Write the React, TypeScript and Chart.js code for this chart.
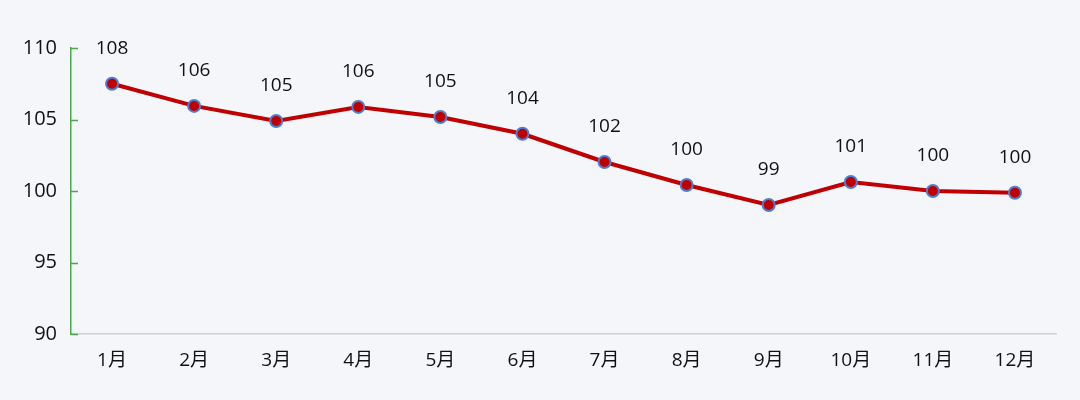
import React, { useEffect, useRef } from "react";
import { Chart, registerables } from "chart.js";

Chart.register(...registerables);

const categories = ["1月", "2月", "3月", "4月", "5月", "6月", "7月", "8月", "9月", "10月", "11月", "12月"];
const values = [107.5, 105.95, 104.9, 105.88, 105.17, 104.0, 102.03, 100.42, 99.02, 100.63, 100.0, 99.88];
const yTicks = [90, 95, 100, 105, 110];

const FONT = "'Open Sans', 'Noto Sans CJK SC', sans-serif";
const BG = "#f4f6fa";
const TEXT = "#111111";

const labelPlugin = {
  id: "pointLabels",
  afterDatasetsDraw(chart: any) {
    const ctx = chart.ctx;
    const meta = chart.getDatasetMeta(0);
    ctx.save();
    ctx.font = `19px ${FONT}`;
    ctx.fillStyle = TEXT;
    ctx.textAlign = "center";
    ctx.textBaseline = "middle";
    meta.data.forEach((pt: any, i: number) => {
      ctx.fillText(String(Math.round(values[i])), pt.x, pt.y - 35);
    });
    ctx.restore();
  },
};

const tickPlugin = {
  id: "innerTicks",
  afterDraw(chart: any) {
    const ctx = chart.ctx;
    const y = chart.scales.y;
    ctx.save();
    ctx.strokeStyle = "#4aa84a";
    ctx.lineWidth = 1.5;
    yTicks.forEach((v) => {
      const py = Math.round(y.getPixelForValue(v)) + 0.5;
      ctx.beginPath();
      ctx.moveTo(y.right, py);
      ctx.lineTo(y.right + 7, py);
      ctx.stroke();
    });
    ctx.restore();
  },
};

export default function App() {
  const ref = useRef<HTMLCanvasElement>(null);
  useEffect(() => {
    document.body.style.margin = "0";
    const chart = new Chart(ref.current!, {
      type: "line",
      data: {
        labels: categories,
        datasets: [
          {
            data: values,
            borderColor: "#c00000",
            borderWidth: 4,
            backgroundColor: "#c00000",
            pointBackgroundColor: "#c00000",
            pointBorderColor: "#4a7fd4",
            pointBorderWidth: 2,
            pointRadius: 6,
            tension: 0,
          },
        ],
      },
      options: {
        animation: false,
        responsive: false,
        maintainAspectRatio: false,
        layout: { padding: { left: 0, top: 48, right: 24, bottom: 0 } },
        plugins: { legend: { display: false }, tooltip: { enabled: false } },
        scales: {
          x: {
            offset: true,
            grid: { display: false, drawTicks: false },
            border: { display: true, color: "#d0d0d0", width: 1.5 },
            ticks: { padding: 15, color: TEXT, font: { size: 19, family: FONT } },
            afterFit: (s: any) => { s.height = 66; },
          },
          y: {
            min: 90,
            max: 110,
            afterBuildTicks: (s: any) => { s.ticks = yTicks.map((v) => ({ value: v })); },
            grid: { display: false, drawTicks: false },
            border: { display: true, color: "#4aa84a", width: 1.5 },
            ticks: { padding: 14, color: TEXT, font: { size: 20, family: FONT } },
            afterFit: (s: any) => { s.width = 71; },
          },
        },
      },
      plugins: [labelPlugin, tickPlugin],
    });
    return () => chart.destroy();
  }, []);
  return (
    <div style={{ position: "absolute", left: 0, top: 0, width: 1080, height: 400, background: BG }}>
      <canvas ref={ref} width={1080} height={400} style={{ width: 1080, height: 400, display: "block" }} />
    </div>
  );
}
